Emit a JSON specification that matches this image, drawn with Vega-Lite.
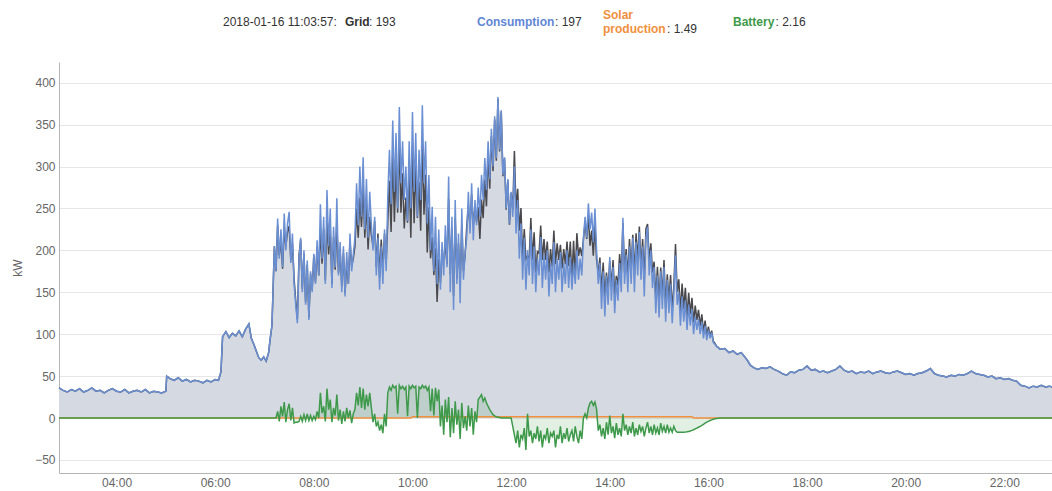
{
"$schema": "https://vega.github.io/schema/vega-lite/v6.json",
"width": 993, "height": 411,
"autosize": {"type": "none"},
"padding": {"left": 59, "top": 62, "right": 0, "bottom": 18},
"background": "white",
"config": {
 "view": {"stroke": null},
 "font": "Liberation Sans",
 "axis": {"labelFont": "Liberation Sans", "labelFontSize": 12, "labelColor": "#666666", "titleFont": "Liberation Sans", "titleFontSize": 12, "titleColor": "#666666", "titleFontWeight": "normal", "ticks": false, "domainColor": "#b5b5b5", "gridColor": "#e6e6e6"},
 "axisY": {"labelPadding": 4, "titlePadding": 10}
},
"layer": [
{
"data": {"format": {"parse": {"t": "utc:'%H:%M'"}}, "values": [
{"t":"02:50","c":36,"g":36,"b":0,"s":0},{"t":"02:55","c":33,"g":33,"b":0,"s":0},{"t":"03:00","c":31,"g":31,"b":0,"s":0},{"t":"03:05","c":34,"g":34,"b":0,"s":0},{"t":"03:10","c":32,"g":32,"b":0,"s":0},{"t":"03:15","c":35,"g":35,"b":0,"s":0},{"t":"03:20","c":31,"g":31,"b":0,"s":0},{"t":"03:25","c":33,"g":33,"b":0,"s":0},{"t":"03:30","c":36,"g":36,"b":0,"s":0},{"t":"03:35","c":32,"g":32,"b":0,"s":0},{"t":"03:40","c":33,"g":33,"b":0,"s":0},{"t":"03:45","c":30,"g":30,"b":0,"s":0},{"t":"03:50","c":33,"g":33,"b":0,"s":0},{"t":"03:55","c":35,"g":35,"b":0,"s":0},{"t":"04:00","c":32,"g":32,"b":0,"s":0},{"t":"04:05","c":31,"g":31,"b":0,"s":0},{"t":"04:10","c":34,"g":34,"b":0,"s":0},{"t":"04:15","c":30,"g":30,"b":0,"s":0},{"t":"04:20","c":32,"g":32,"b":0,"s":0},{"t":"04:25","c":33,"g":33,"b":0,"s":0},{"t":"04:30","c":31,"g":31,"b":0,"s":0},{"t":"04:35","c":34,"g":34,"b":0,"s":0},{"t":"04:40","c":30,"g":30,"b":0,"s":0},{"t":"04:45","c":32,"g":32,"b":0,"s":0},{"t":"04:50","c":31,"g":31,"b":0,"s":0},{"t":"04:55","c":30,"g":30,"b":0,"s":0},{"t":"05:00","c":32,"g":32,"b":0,"s":0},
{"t":"05:01","c":50,"g":50,"b":0,"s":0},{"t":"05:05","c":47,"g":47,"b":0,"s":0},{"t":"05:10","c":45,"g":45,"b":0,"s":0},{"t":"05:15","c":48,"g":48,"b":0,"s":0},{"t":"05:20","c":44,"g":44,"b":0,"s":0},{"t":"05:25","c":46,"g":46,"b":0,"s":0},{"t":"05:30","c":43,"g":43,"b":0,"s":0},{"t":"05:35","c":45,"g":45,"b":0,"s":0},{"t":"05:40","c":44,"g":44,"b":0,"s":0},{"t":"05:45","c":42,"g":42,"b":0,"s":0},{"t":"05:50","c":45,"g":45,"b":0,"s":0},{"t":"05:55","c":43,"g":43,"b":0,"s":0},{"t":"06:00","c":46,"g":46,"b":0,"s":0},{"t":"06:04","c":45,"g":45,"b":0,"s":0},{"t":"06:07","c":55,"g":55,"b":0,"s":0},
{"t":"06:09","c":97,"g":97,"b":0,"s":0},{"t":"06:13","c":103,"g":103,"b":0,"s":0},{"t":"06:17","c":96,"g":96,"b":0,"s":0},{"t":"06:21","c":101,"g":101,"b":0,"s":0},{"t":"06:25","c":98,"g":98,"b":0,"s":0},{"t":"06:29","c":104,"g":104,"b":0,"s":0},{"t":"06:33","c":97,"g":97,"b":0,"s":0},{"t":"06:37","c":106,"g":106,"b":0,"s":0},{"t":"06:41","c":112,"g":112,"b":0,"s":0},{"t":"06:44","c":95,"g":95,"b":0,"s":0},{"t":"06:47","c":88,"g":88,"b":0,"s":0},{"t":"06:50","c":80,"g":80,"b":0,"s":0},{"t":"06:53","c":72,"g":72,"b":0,"s":0},{"t":"06:56","c":69,"g":69,"b":0,"s":0},{"t":"06:59","c":73,"g":73,"b":0,"s":0},{"t":"07:02","c":68,"g":68,"b":0,"s":0},{"t":"07:05","c":78,"g":78,"b":0,"s":0},{"t":"07:07","c":95,"g":95,"b":0,"s":0},{"t":"07:09","c":110,"g":110,"b":0,"s":0},
{"t":"07:10","c":140,"g":140,"b":0,"s":0},{"t":"07:12","c":205,"g":205,"b":0,"s":0},{"t":"07:14","c":175,"g":175,"b":0,"s":0},{"t":"07:16","c":238,"g":230,"b":8,"s":0},{"t":"07:18","c":190,"g":194,"b":-4,"s":0},{"t":"07:20","c":225,"g":211,"b":14,"s":0},{"t":"07:22","c":180,"g":178,"b":2,"s":0},{"t":"07:24","c":244,"g":225,"b":19,"s":0},{"t":"07:26","c":200,"g":205,"b":-5,"s":0},{"t":"07:28","c":232,"g":222,"b":10,"s":0},{"t":"07:30","c":246,"g":229,"b":17,"s":0},{"t":"07:32","c":185,"g":188,"b":-3,"s":0},{"t":"07:34","c":220,"g":208,"b":12,"s":0},{"t":"07:36","c":160,"g":166,"b":-6,"s":0},{"t":"07:38","c":135,"g":140,"b":-5,"s":0},{"t":"07:40","c":113,"g":118,"b":-5,"s":0},{"t":"07:42","c":190,"g":194,"b":-4,"s":0},{"t":"07:44","c":215,"g":213,"b":2,"s":0},{"t":"07:46","c":150,"g":154,"b":-4,"s":0},{"t":"07:48","c":200,"g":196,"b":4,"s":0},{"t":"07:50","c":135,"g":138,"b":-3,"s":0},{"t":"07:52","c":188,"g":183,"b":5,"s":0},{"t":"07:54","c":117,"g":120,"b":-3,"s":0},{"t":"07:56","c":175,"g":172,"b":3,"s":0},{"t":"07:58","c":150,"g":153,"b":-3,"s":0},
{"t":"08:00","c":196,"g":194,"b":2,"s":0},{"t":"08:02","c":160,"g":162,"b":-2,"s":0},{"t":"08:04","c":212,"g":204,"b":8,"s":0},{"t":"08:06","c":170,"g":170,"b":0,"s":0},{"t":"08:08","c":255,"g":225,"b":30,"s":0},{"t":"08:10","c":190,"g":184,"b":6,"s":0},{"t":"08:12","c":240,"g":226,"b":14,"s":0},{"t":"08:14","c":160,"g":164,"b":-4,"s":0},{"t":"08:16","c":272,"g":237,"b":35,"s":0},{"t":"08:18","c":205,"g":195,"b":10,"s":0},{"t":"08:20","c":250,"g":228,"b":22,"s":0},{"t":"08:22","c":155,"g":160,"b":-5,"s":0},{"t":"08:24","c":228,"g":216,"b":12,"s":0},{"t":"08:26","c":180,"g":177,"b":3,"s":0},{"t":"08:28","c":262,"g":234,"b":28,"s":0},{"t":"08:30","c":170,"g":173,"b":-3,"s":0},{"t":"08:32","c":210,"g":200,"b":10,"s":0},{"t":"08:34","c":150,"g":157,"b":-7,"s":0},{"t":"08:36","c":205,"g":197,"b":8,"s":0},{"t":"08:38","c":145,"g":149,"b":-4,"s":0},{"t":"08:40","c":198,"g":186,"b":12,"s":0},{"t":"08:42","c":160,"g":160,"b":0,"s":0},{"t":"08:44","c":220,"g":211,"b":9,"s":0},{"t":"08:46","c":175,"g":181,"b":-6,"s":0},{"t":"08:48","c":195,"g":190,"b":5,"s":0},{"t":"08:50","c":215,"g":205,"b":10,"s":0},{"t":"08:52","c":280,"g":250,"b":30,"s":0},{"t":"08:54","c":230,"g":215,"b":15,"s":0},{"t":"08:56","c":300,"g":263,"b":37,"s":0},{"t":"08:58","c":240,"g":228,"b":12,"s":0},
{"t":"09:00","c":311,"g":276,"b":35,"s":0},{"t":"09:02","c":225,"g":215,"b":10,"s":0},{"t":"09:04","c":285,"g":257,"b":28,"s":0},{"t":"09:06","c":215,"g":201,"b":14,"s":0},{"t":"09:08","c":270,"g":240,"b":30,"s":0},{"t":"09:10","c":230,"g":218,"b":12,"s":0},{"t":"09:12","c":200,"g":205,"b":-5,"s":0},{"t":"09:14","c":240,"g":235,"b":5,"s":0},{"t":"09:16","c":170,"g":180,"b":-10,"s":0},{"t":"09:18","c":215,"g":220,"b":-5,"s":0},{"t":"09:20","c":153,"g":168,"b":-15,"s":0},{"t":"09:22","c":205,"g":213,"b":-8,"s":0},{"t":"09:24","c":160,"g":178,"b":-18,"s":0},{"t":"09:26","c":225,"g":220,"b":5,"s":0},{"t":"09:28","c":175,"g":185,"b":-10,"s":0},{"t":"09:30","c":265,"g":235,"b":30,"s":0},{"t":"09:32","c":320,"g":283,"b":37,"s":0},{"t":"09:34","c":255,"g":222,"b":33,"s":0},{"t":"09:36","c":355,"g":316,"b":39,"s":0},{"t":"09:38","c":270,"g":234,"b":36,"s":0},{"t":"09:40","c":340,"g":302,"b":38,"s":0},{"t":"09:42","c":250,"g":245,"b":5,"s":0},{"t":"09:44","c":371,"g":332,"b":39,"s":0},{"t":"09:46","c":280,"g":245,"b":35,"s":0},{"t":"09:48","c":330,"g":292,"b":38,"s":0},{"t":"09:50","c":260,"g":226,"b":34,"s":0},{"t":"09:52","c":300,"g":263,"b":37,"s":0},{"t":"09:54","c":235,"g":233,"b":2,"s":0},{"t":"09:56","c":330,"g":292,"b":38,"s":0},{"t":"09:58","c":250,"g":215,"b":35,"s":0},
{"t":"10:00","c":365,"g":324.5,"b":39,"s":1.5},{"t":"10:02","c":270,"g":232.5,"b":36,"s":1.5},{"t":"10:04","c":340,"g":300.5,"b":38,"s":1.5},{"t":"10:06","c":240,"g":238.5,"b":0,"s":1.5},{"t":"10:08","c":320,"g":281.5,"b":37,"s":1.5},{"t":"10:10","c":260,"g":223.5,"b":35,"s":1.5},{"t":"10:12","c":373,"g":332.5,"b":39,"s":1.5},{"t":"10:14","c":280,"g":242.5,"b":36,"s":1.5},{"t":"10:16","c":330,"g":290.5,"b":38,"s":1.5},{"t":"10:18","c":232,"g":197.5,"b":33,"s":1.5},{"t":"10:20","c":290,"g":251.5,"b":37,"s":1.5},{"t":"10:22","c":200,"g":190.5,"b":8,"s":1.5},{"t":"10:24","c":252,"g":215.5,"b":35,"s":1.5},{"t":"10:26","c":175,"g":170.5,"b":3,"s":1.5},{"t":"10:28","c":240,"g":202.5,"b":36,"s":1.5},{"t":"10:30","c":160,"g":138.5,"b":20,"s":1.5},{"t":"10:32","c":225,"g":189.5,"b":34,"s":1.5},{"t":"10:34","c":153,"g":161.5,"b":-10,"s":1.5},{"t":"10:36","c":210,"g":193.5,"b":15,"s":1.5},{"t":"10:38","c":170,"g":188.5,"b":-20,"s":1.5},{"t":"10:40","c":230,"g":206.5,"b":22,"s":1.5},{"t":"10:42","c":180,"g":183.5,"b":-5,"s":1.5},{"t":"10:44","c":288,"g":261.5,"b":25,"s":1.5},{"t":"10:46","c":150,"g":171.5,"b":-23,"s":1.5},{"t":"10:48","c":240,"g":226.5,"b":12,"s":1.5},{"t":"10:50","c":129,"g":145.5,"b":-18,"s":1.5},{"t":"10:52","c":260,"g":238.5,"b":20,"s":1.5},{"t":"10:54","c":160,"g":166.5,"b":-8,"s":1.5},{"t":"10:56","c":220,"g":208.5,"b":10,"s":1.5},{"t":"10:58","c":137,"g":160.5,"b":-25,"s":1.5},
{"t":"11:00","c":250,"g":230.5,"b":18,"s":1.5},{"t":"11:02","c":165,"g":175.5,"b":-12,"s":1.5},{"t":"11:04","c":197,"g":193.5,"b":2,"s":1.5},{"t":"11:06","c":215,"g":228.5,"b":-15,"s":1.5},{"t":"11:08","c":270,"g":253.5,"b":15,"s":1.5},{"t":"11:10","c":220,"g":228.5,"b":-10,"s":1.5},{"t":"11:12","c":280,"g":266.5,"b":12,"s":1.5},{"t":"11:14","c":212,"g":230.5,"b":-20,"s":1.5},{"t":"11:16","c":260,"g":250.5,"b":8,"s":1.5},{"t":"11:18","c":230,"g":233.5,"b":-5,"s":1.5},{"t":"11:20","c":275,"g":251.5,"b":22,"s":1.5},{"t":"11:22","c":240,"g":213.5,"b":25,"s":1.5},{"t":"11:24","c":290,"g":260.5,"b":28,"s":1.5},{"t":"11:26","c":260,"g":238.5,"b":20,"s":1.5},{"t":"11:28","c":310,"g":284.5,"b":24,"s":1.5},{"t":"11:30","c":272,"g":252.5,"b":18,"s":1.5},{"t":"11:32","c":330,"g":314.5,"b":14,"s":1.5},{"t":"11:34","c":285,"g":273.5,"b":10,"s":1.5},{"t":"11:36","c":345,"g":336.5,"b":7,"s":1.5},{"t":"11:38","c":300,"g":294.5,"b":4,"s":1.5},{"t":"11:40","c":360,"g":356,"b":2.5,"s":1.5},{"t":"11:42","c":310,"g":307,"b":1.5,"s":1.5},{"t":"11:44","c":383,"g":380.5,"b":1,"s":1.5},{"t":"11:46","c":320,"g":318,"b":0.5,"s":1.5},{"t":"11:48","c":367,"g":365.5,"b":0,"s":1.5},{"t":"11:50","c":290,"g":288.5,"b":0,"s":1.5},{"t":"11:52","c":311,"g":309.5,"b":0,"s":1.5},{"t":"11:54","c":250,"g":248.5,"b":0,"s":1.5},{"t":"11:56","c":285,"g":283.5,"b":0,"s":1.5},{"t":"11:58","c":232,"g":230.5,"b":0,"s":1.5},
{"t":"12:00","c":270,"g":268.5,"b":0,"s":1.5},{"t":"12:02","c":240,"g":248.5,"b":-10,"s":1.5},{"t":"12:04","c":300,"g":318.5,"b":-20,"s":1.5},{"t":"12:06","c":220,"g":248.5,"b":-30,"s":1.5},{"t":"12:08","c":260,"g":273.5,"b":-15,"s":1.5},{"t":"12:10","c":190,"g":223.5,"b":-35,"s":1.5},{"t":"12:12","c":232,"g":250.5,"b":-20,"s":1.5},{"t":"12:14","c":165,"g":188.5,"b":-25,"s":1.5},{"t":"12:16","c":215,"g":225.5,"b":-12,"s":1.5},{"t":"12:18","c":153,"g":189.5,"b":-38,"s":1.5},{"t":"12:20","c":200,"g":193.5,"b":5,"s":1.5},{"t":"12:22","c":170,"g":190.5,"b":-22,"s":1.5},{"t":"12:24","c":225,"g":238.5,"b":-15,"s":1.5},{"t":"12:26","c":160,"g":188.5,"b":-30,"s":1.5},{"t":"12:28","c":205,"g":221.5,"b":-18,"s":1.5},{"t":"12:30","c":150,"g":173.5,"b":-25,"s":1.5},{"t":"12:32","c":190,"g":198.5,"b":-10,"s":1.5},{"t":"12:34","c":170,"g":196.5,"b":-28,"s":1.5},{"t":"12:36","c":216,"g":229.5,"b":-15,"s":1.5},{"t":"12:38","c":155,"g":188.5,"b":-35,"s":1.5},{"t":"12:40","c":195,"g":213.5,"b":-20,"s":1.5},{"t":"12:42","c":165,"g":188.5,"b":-25,"s":1.5},{"t":"12:44","c":200,"g":210.5,"b":-12,"s":1.5},{"t":"12:46","c":145,"g":173.5,"b":-30,"s":1.5},{"t":"12:48","c":185,"g":201.5,"b":-18,"s":1.5},{"t":"12:50","c":160,"g":180.5,"b":-22,"s":1.5},{"t":"12:52","c":210,"g":223.5,"b":-15,"s":1.5},{"t":"12:54","c":150,"g":183.5,"b":-35,"s":1.5},{"t":"12:56","c":190,"g":208.5,"b":-20,"s":1.5},{"t":"12:58","c":165,"g":188.5,"b":-25,"s":1.5},
{"t":"13:00","c":198,"g":206.5,"b":-10,"s":1.5},{"t":"13:02","c":150,"g":178.5,"b":-30,"s":1.5},{"t":"13:04","c":185,"g":201.5,"b":-18,"s":1.5},{"t":"13:06","c":160,"g":183.5,"b":-25,"s":1.5},{"t":"13:08","c":200,"g":210.5,"b":-12,"s":1.5},{"t":"13:10","c":155,"g":181.5,"b":-28,"s":1.5},{"t":"13:12","c":192,"g":210.5,"b":-20,"s":1.5},{"t":"13:14","c":153,"g":166.5,"b":-15,"s":1.5},{"t":"13:16","c":185,"g":211.5,"b":-28,"s":1.5},{"t":"13:18","c":160,"g":168.5,"b":-10,"s":1.5},{"t":"13:20","c":200,"g":220.5,"b":-22,"s":1.5},{"t":"13:22","c":165,"g":193.5,"b":-30,"s":1.5},{"t":"13:24","c":190,"g":203.5,"b":-15,"s":1.5},{"t":"13:26","c":170,"g":193.5,"b":-25,"s":1.5},{"t":"13:28","c":215,"g":213.5,"b":0,"s":1.5},{"t":"13:30","c":240,"g":233.5,"b":5,"s":1.5},{"t":"13:32","c":215,"g":213.5,"b":0,"s":1.5},{"t":"13:34","c":256,"g":242.5,"b":12,"s":1.5},{"t":"13:36","c":225,"g":205.5,"b":18,"s":1.5},{"t":"13:38","c":245,"g":223.5,"b":20,"s":1.5},{"t":"13:40","c":210,"g":193.5,"b":15,"s":1.5},{"t":"13:42","c":250,"g":229.5,"b":19,"s":1.5},{"t":"13:44","c":200,"g":188.5,"b":10,"s":1.5},{"t":"13:46","c":160,"g":173.5,"b":-15,"s":1.5},{"t":"13:48","c":185,"g":191.5,"b":-8,"s":1.5},{"t":"13:50","c":130,"g":150.5,"b":-22,"s":1.5},{"t":"13:52","c":175,"g":185.5,"b":-12,"s":1.5},{"t":"13:54","c":121,"g":144.5,"b":-25,"s":1.5},{"t":"13:56","c":170,"g":173.5,"b":-5,"s":1.5},{"t":"13:58","c":135,"g":153.5,"b":-20,"s":1.5},
{"t":"14:00","c":192,"g":187.5,"b":3,"s":1.5},{"t":"14:02","c":140,"g":156.5,"b":-18,"s":1.5},{"t":"14:04","c":180,"g":188.5,"b":-10,"s":1.5},{"t":"14:06","c":125,"g":147.5,"b":-24,"s":1.5},{"t":"14:08","c":165,"g":169.5,"b":-6,"s":1.5},{"t":"14:10","c":140,"g":158.5,"b":-20,"s":1.5},{"t":"14:12","c":185,"g":195.5,"b":-12,"s":1.5},{"t":"14:14","c":150,"g":170.5,"b":-22,"s":1.5},{"t":"14:16","c":239,"g":232.5,"b":5,"s":1.5},{"t":"14:18","c":160,"g":173.5,"b":-15,"s":1.5},{"t":"14:20","c":195,"g":201.5,"b":-8,"s":1.5},{"t":"14:22","c":150,"g":168.5,"b":-20,"s":1.5},{"t":"14:24","c":205,"g":213.5,"b":-10,"s":1.5},{"t":"14:26","c":160,"g":176.5,"b":-18,"s":1.5},{"t":"14:28","c":215,"g":218.5,"b":-5,"s":1.5},{"t":"14:30","c":150,"g":170.5,"b":-22,"s":1.5},{"t":"14:32","c":210,"g":220.5,"b":-12,"s":1.5},{"t":"14:34","c":170,"g":188.5,"b":-20,"s":1.5},{"t":"14:36","c":222,"g":228.5,"b":-8,"s":1.5},{"t":"14:38","c":165,"g":179.5,"b":-16,"s":1.5},{"t":"14:40","c":205,"g":213.5,"b":-10,"s":1.5},{"t":"14:42","c":145,"g":165.5,"b":-22,"s":1.5},{"t":"14:44","c":215,"g":225.5,"b":-12,"s":1.5},{"t":"14:46","c":228,"g":231.5,"b":-5,"s":1.5},{"t":"14:48","c":170,"g":186.5,"b":-18,"s":1.5},{"t":"14:50","c":200,"g":208.5,"b":-10,"s":1.5},{"t":"14:52","c":155,"g":173.5,"b":-20,"s":1.5},{"t":"14:54","c":180,"g":186.5,"b":-8,"s":1.5},{"t":"14:56","c":125,"g":141.5,"b":-18,"s":1.5},{"t":"14:58","c":170,"g":180.5,"b":-12,"s":1.5},
{"t":"15:00","c":120,"g":138.5,"b":-20,"s":1.5},{"t":"15:02","c":175,"g":179.5,"b":-6,"s":1.5},{"t":"15:04","c":130,"g":144.5,"b":-16,"s":1.5},{"t":"15:06","c":180,"g":188.5,"b":-10,"s":1.5},{"t":"15:08","c":115,"g":131.5,"b":-18,"s":1.5},{"t":"15:10","c":165,"g":171.5,"b":-8,"s":1.5},{"t":"15:12","c":125,"g":140.5,"b":-17,"s":1.5},{"t":"15:14","c":160,"g":170.5,"b":-12,"s":1.5},{"t":"15:16","c":113,"g":128.5,"b":-17,"s":1.5},{"t":"15:18","c":150,"g":158.5,"b":-10,"s":1.5},{"t":"15:20","c":194,"g":207.5,"b":-15,"s":1.5},{"t":"15:22","c":135,"g":150.5,"b":-17,"s":1.5},{"t":"15:24","c":150,"g":165.5,"b":-17,"s":1.5},{"t":"15:26","c":110,"g":125.5,"b":-17,"s":1.5},{"t":"15:28","c":145,"g":160.5,"b":-17,"s":1.5},{"t":"15:30","c":115,"g":130.5,"b":-17,"s":1.5},{"t":"15:32","c":140,"g":155.3,"b":-16.8,"s":1.5},{"t":"15:34","c":105,"g":120,"b":-16.5,"s":1.5},{"t":"15:36","c":135,"g":149.5,"b":-16,"s":1.5},{"t":"15:38","c":110,"g":124,"b":-15.5,"s":1.5},{"t":"15:40","c":130,"g":143.3,"b":-14.8,"s":1.5},{"t":"15:42","c":100,"g":114,"b":-14,"s":0},{"t":"15:44","c":121,"g":134,"b":-13,"s":0},{"t":"15:46","c":105,"g":117,"b":-12,"s":0},{"t":"15:48","c":118,"g":129,"b":-11,"s":0},{"t":"15:50","c":100,"g":110,"b":-10,"s":0},{"t":"15:52","c":115,"g":123.8,"b":-8.8,"s":0},{"t":"15:54","c":95,"g":102.5,"b":-7.5,"s":0},{"t":"15:56","c":110,"g":116.2,"b":-6.2,"s":0},{"t":"15:58","c":93,"g":98,"b":-5,"s":0},
{"t":"16:00","c":105,"g":109,"b":-4,"s":0},{"t":"16:02","c":95,"g":98,"b":-3,"s":0},{"t":"16:04","c":102,"g":104.2,"b":-2.2,"s":0},{"t":"16:06","c":90,"g":91.5,"b":-1.5,"s":0},{"t":"16:08","c":88,"g":89,"b":-1,"s":0},{"t":"16:10","c":85,"g":85.5,"b":-0.5,"s":0},{"t":"16:12","c":84,"g":84.2,"b":-0.2,"s":0},{"t":"16:14","c":82,"g":82,"b":0,"s":0},
{"t":"16:20","c":83,"g":83,"b":0,"s":0},{"t":"16:25","c":78,"g":78,"b":0,"s":0},{"t":"16:30","c":80,"g":80,"b":0,"s":0},{"t":"16:35","c":76,"g":76,"b":0,"s":0},{"t":"16:40","c":78,"g":78,"b":0,"s":0},{"t":"16:45","c":72,"g":72,"b":0,"s":0},{"t":"16:48","c":68,"g":68,"b":0,"s":0},{"t":"16:51","c":63,"g":63,"b":0,"s":0},{"t":"16:55","c":60,"g":60,"b":0,"s":0},{"t":"17:00","c":58,"g":58,"b":0,"s":0},{"t":"17:05","c":60,"g":60,"b":0,"s":0},{"t":"17:10","c":59,"g":59,"b":0,"s":0},{"t":"17:15","c":61,"g":61,"b":0,"s":0},{"t":"17:20","c":58,"g":58,"b":0,"s":0},{"t":"17:25","c":56,"g":56,"b":0,"s":0},{"t":"17:30","c":53,"g":53,"b":0,"s":0},{"t":"17:35","c":51,"g":51,"b":0,"s":0},{"t":"17:40","c":55,"g":55,"b":0,"s":0},{"t":"17:45","c":54,"g":54,"b":0,"s":0},{"t":"17:50","c":57,"g":57,"b":0,"s":0},{"t":"17:55","c":58,"g":58,"b":0,"s":0},
{"t":"18:00","c":62,"g":62,"b":0,"s":0},{"t":"18:05","c":57,"g":57,"b":0,"s":0},{"t":"18:10","c":58,"g":58,"b":0,"s":0},{"t":"18:15","c":55,"g":55,"b":0,"s":0},{"t":"18:20","c":56,"g":56,"b":0,"s":0},{"t":"18:25","c":54,"g":54,"b":0,"s":0},{"t":"18:30","c":56,"g":56,"b":0,"s":0},{"t":"18:35","c":58,"g":58,"b":0,"s":0},{"t":"18:40","c":62,"g":62,"b":0,"s":0},{"t":"18:45","c":57,"g":57,"b":0,"s":0},{"t":"18:50","c":55,"g":55,"b":0,"s":0},{"t":"18:55","c":56,"g":56,"b":0,"s":0},{"t":"19:00","c":53,"g":53,"b":0,"s":0},{"t":"19:05","c":55,"g":55,"b":0,"s":0},{"t":"19:10","c":54,"g":54,"b":0,"s":0},{"t":"19:15","c":56,"g":56,"b":0,"s":0},{"t":"19:20","c":53,"g":53,"b":0,"s":0},{"t":"19:25","c":55,"g":55,"b":0,"s":0},{"t":"19:30","c":56,"g":56,"b":0,"s":0},{"t":"19:35","c":54,"g":54,"b":0,"s":0},{"t":"19:40","c":53,"g":53,"b":0,"s":0},{"t":"19:45","c":55,"g":55,"b":0,"s":0},{"t":"19:50","c":56,"g":56,"b":0,"s":0},{"t":"19:55","c":54,"g":54,"b":0,"s":0},
{"t":"20:00","c":52,"g":52,"b":0,"s":0},{"t":"20:05","c":53,"g":53,"b":0,"s":0},{"t":"20:10","c":51,"g":51,"b":0,"s":0},{"t":"20:15","c":53,"g":53,"b":0,"s":0},{"t":"20:20","c":54,"g":54,"b":0,"s":0},{"t":"20:25","c":56,"g":56,"b":0,"s":0},{"t":"20:30","c":59,"g":59,"b":0,"s":0},{"t":"20:35","c":53,"g":53,"b":0,"s":0},{"t":"20:40","c":51,"g":51,"b":0,"s":0},{"t":"20:45","c":50,"g":50,"b":0,"s":0},{"t":"20:50","c":49,"g":49,"b":0,"s":0},{"t":"20:55","c":51,"g":51,"b":0,"s":0},{"t":"21:00","c":50,"g":50,"b":0,"s":0},{"t":"21:05","c":52,"g":52,"b":0,"s":0},{"t":"21:10","c":51,"g":51,"b":0,"s":0},{"t":"21:15","c":53,"g":53,"b":0,"s":0},{"t":"21:20","c":56,"g":56,"b":0,"s":0},{"t":"21:25","c":53,"g":53,"b":0,"s":0},{"t":"21:30","c":52,"g":52,"b":0,"s":0},{"t":"21:35","c":51,"g":51,"b":0,"s":0},{"t":"21:40","c":49,"g":49,"b":0,"s":0},{"t":"21:45","c":50,"g":50,"b":0,"s":0},{"t":"21:50","c":47,"g":47,"b":0,"s":0},{"t":"21:55","c":48,"g":48,"b":0,"s":0},
{"t":"22:00","c":46,"g":46,"b":0,"s":0},{"t":"22:05","c":47,"g":47,"b":0,"s":0},{"t":"22:10","c":45,"g":45,"b":0,"s":0},{"t":"22:15","c":44,"g":44,"b":0,"s":0},{"t":"22:20","c":39,"g":39,"b":0,"s":0},{"t":"22:25","c":38,"g":38,"b":0,"s":0},{"t":"22:30","c":36,"g":36,"b":0,"s":0},{"t":"22:35","c":38,"g":38,"b":0,"s":0},{"t":"22:40","c":37,"g":37,"b":0,"s":0},{"t":"22:45","c":39,"g":39,"b":0,"s":0},{"t":"22:50","c":37,"g":37,"b":0,"s":0},{"t":"22:55","c":38,"g":38,"b":0,"s":0},{"t":"22:58","c":37,"g":37,"b":0,"s":0}
]},
"encoding": {
 "x": {"field": "t", "type": "temporal", "title": null,
  "scale": {"type": "utc", "nice": false, "domain": [{"year":1900,"month":1,"date":1,"hours":2,"minutes":50,"utc":true},{"year":1900,"month":1,"date":1,"hours":22,"minutes":58,"utc":true}]},
  "axis": {"format": "%H:%M", "grid": false, "labelPadding": 4, "values": [
   {"year":1900,"month":1,"date":1,"hours":4,"utc":true},{"year":1900,"month":1,"date":1,"hours":6,"utc":true},{"year":1900,"month":1,"date":1,"hours":8,"utc":true},{"year":1900,"month":1,"date":1,"hours":10,"utc":true},{"year":1900,"month":1,"date":1,"hours":12,"utc":true},{"year":1900,"month":1,"date":1,"hours":14,"utc":true},{"year":1900,"month":1,"date":1,"hours":16,"utc":true},{"year":1900,"month":1,"date":1,"hours":18,"utc":true},{"year":1900,"month":1,"date":1,"hours":20,"utc":true},{"year":1900,"month":1,"date":1,"hours":22,"utc":true}]}}
},
"layer": [
 {"mark": {"type": "area", "color": "#d5d9e2"},
  "encoding": {"y": {"field": "g", "type": "quantitative", "title": "kW", "scale": {"domain": [-65.6, 424.7], "nice": false, "zero": false}, "axis": {"values": [-50,0,50,100,150,200,250,300,350,400]}}}},
 {"mark": {"type": "area", "color": "#3e9a4a", "opacity": 0.15},
  "encoding": {"y": {"field": "b", "type": "quantitative", "title": "kW", "scale": {"domain": [-65.6, 424.7], "nice": false, "zero": false}}}},
 {"mark": {"type": "line", "color": "#48484d", "strokeWidth": 1.5},
  "encoding": {"y": {"field": "g", "type": "quantitative", "title": "kW", "scale": {"domain": [-65.6, 424.7], "nice": false, "zero": false}}}},
 {"mark": {"type": "line", "color": "#6a8fd3", "strokeWidth": 1.5},
  "encoding": {"y": {"field": "c", "type": "quantitative", "title": "kW", "scale": {"domain": [-65.6, 424.7], "nice": false, "zero": false}}}},
 {"mark": {"type": "line", "color": "#f0903c", "strokeWidth": 1.5},
  "encoding": {"y": {"field": "s", "type": "quantitative", "title": "kW", "scale": {"domain": [-65.6, 424.7], "nice": false, "zero": false}}}},
 {"mark": {"type": "line", "color": "#3e9a4a", "strokeWidth": 1.5},
  "encoding": {"y": {"field": "b", "type": "quantitative", "title": "kW", "scale": {"domain": [-65.6, 424.7], "nice": false, "zero": false}}}}
]
},
 {"data": {"values": [{"k": 1}]}, "mark": {"type": "text", "clip": false, "text": "2018-01-16 11:03:57:", "align": "left", "baseline": "middle", "font": "Liberation Sans", "fontSize": 12, "color": "#333333"},
  "encoding": {"x": {"datum": {"expr": "utc(1900,0,1,6,9,30)"}, "type": "temporal"}, "y": {"datum": 472.4, "type": "quantitative", "title": "kW"}}},
 {"data": {"values": [{"k": 1}]}, "mark": {"type": "text", "clip": false, "text": "Grid", "align": "left", "baseline": "middle", "font": "Liberation Sans", "fontSize": 12, "fontWeight": "bold", "color": "#333333"},
  "encoding": {"x": {"datum": {"expr": "utc(1900,0,1,8,37,55)"}, "type": "temporal"}, "y": {"datum": 472.4, "type": "quantitative", "title": "kW"}}},
 {"data": {"values": [{"k": 1}]}, "mark": {"type": "text", "clip": false, "text": ": 193", "align": "left", "baseline": "middle", "font": "Liberation Sans", "fontSize": 12, "color": "#333333"},
  "encoding": {"x": {"datum": {"expr": "utc(1900,0,1,9,7,8)"}, "type": "temporal"}, "y": {"datum": 472.4, "type": "quantitative", "title": "kW"}}},
 {"data": {"values": [{"k": 1}]}, "mark": {"type": "text", "clip": false, "text": "Consumption", "align": "left", "baseline": "middle", "font": "Liberation Sans", "fontSize": 12, "fontWeight": "bold", "color": "#5f87d6"},
  "encoding": {"x": {"datum": {"expr": "utc(1900,0,1,11,18,30)"}, "type": "temporal"}, "y": {"datum": 472.4, "type": "quantitative", "title": "kW"}}},
 {"data": {"values": [{"k": 1}]}, "mark": {"type": "text", "clip": false, "text": ": 197", "align": "left", "baseline": "middle", "font": "Liberation Sans", "fontSize": 12, "color": "#333333"},
  "encoding": {"x": {"datum": {"expr": "utc(1900,0,1,12,53,25)"}, "type": "temporal"}, "y": {"datum": 472.4, "type": "quantitative", "title": "kW"}}},
 {"data": {"values": [{"k": 1}]}, "mark": {"type": "text", "clip": false, "text": "Solar", "align": "left", "baseline": "middle", "font": "Liberation Sans", "fontSize": 12, "fontWeight": "bold", "color": "#f0903c"},
  "encoding": {"x": {"datum": {"expr": "utc(1900,0,1,13,51,47)"}, "type": "temporal"}, "y": {"datum": 480.8, "type": "quantitative", "title": "kW"}}},
 {"data": {"values": [{"k": 1}]}, "mark": {"type": "text", "clip": false, "text": "production", "align": "left", "baseline": "middle", "font": "Liberation Sans", "fontSize": 12, "fontWeight": "bold", "color": "#f0903c"},
  "encoding": {"x": {"datum": {"expr": "utc(1900,0,1,13,51,47)"}, "type": "temporal"}, "y": {"datum": 464.1, "type": "quantitative", "title": "kW"}}},
 {"data": {"values": [{"k": 1}]}, "mark": {"type": "text", "clip": false, "text": ": 1.49", "align": "left", "baseline": "middle", "font": "Liberation Sans", "fontSize": 12, "color": "#333333"},
  "encoding": {"x": {"datum": {"expr": "utc(1900,0,1,15,9,40)"}, "type": "temporal"}, "y": {"datum": 464.1, "type": "quantitative", "title": "kW"}}},
 {"data": {"values": [{"k": 1}]}, "mark": {"type": "text", "clip": false, "text": "Battery", "align": "left", "baseline": "middle", "font": "Liberation Sans", "fontSize": 12, "fontWeight": "bold", "color": "#3e9a4a"},
  "encoding": {"x": {"datum": {"expr": "utc(1900,0,1,16,29,57)"}, "type": "temporal"}, "y": {"datum": 472.4, "type": "quantitative", "title": "kW"}}},
 {"data": {"values": [{"k": 1}]}, "mark": {"type": "text", "clip": false, "text": ": 2.16", "align": "left", "baseline": "middle", "font": "Liberation Sans", "fontSize": 12, "color": "#333333"},
  "encoding": {"x": {"datum": {"expr": "utc(1900,0,1,17,21,40)"}, "type": "temporal"}, "y": {"datum": 472.4, "type": "quantitative", "title": "kW"}}}
]
}
